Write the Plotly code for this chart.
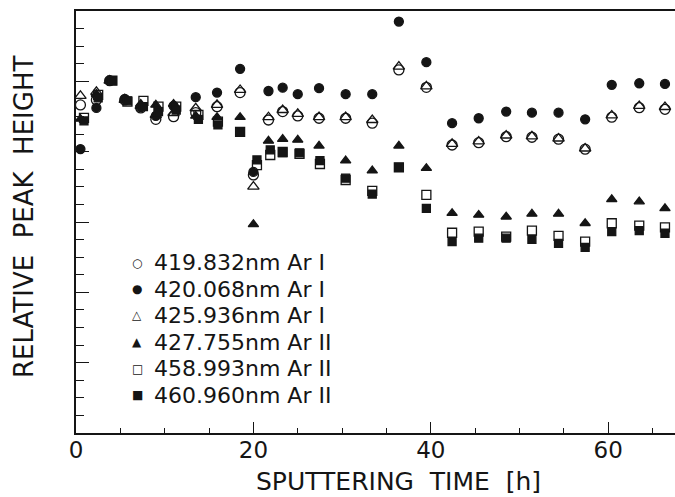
import plotly.graph_objects as go

# Sputtering time [h]
time_h = [0.5, 2.3, 3.8, 5.5, 7.3, 9.0, 11.0, 13.5, 15.9, 18.5, 20.0, 21.7, 23.3, 25.0,
          27.4, 30.4, 33.4, 36.4, 39.5, 42.4, 45.4, 48.5, 51.4, 54.4, 57.4, 60.4, 63.5, 66.4]
time_sq = [0.9, 2.5, 4.1, 5.8, 7.6, 9.3, 11.3, 13.8, 16.0, 18.5, 20.4, 21.9, 23.3, 25.2,
           27.5, 30.4, 33.4, 36.4, 39.5, 42.4, 45.4, 48.5, 51.4, 54.4, 57.4, 60.4, 63.5, 66.4]

# Relative peak height (arbitrary units)
ar_419_832 = [18.66, 18.94, 20.04, 18.94, 18.49, 17.84, 17.99, 18.22, 18.56, 19.36, 14.68, 17.80, 18.28, 18.03,
              17.90, 17.90, 17.62, 20.65, 19.66, 16.38, 16.51, 16.85, 16.82, 16.71, 16.14, 17.96, 18.50, 18.41]
ar_420_068 = [16.15, 18.49, 20.04, 19.00, 18.53, 18.03, 18.60, 19.10, 19.36, 20.71, 14.85, 19.45, 19.64, 19.27,
              19.61, 19.27, 19.27, 23.40, 21.09, 17.62, 17.90, 18.28, 18.22, 18.22, 17.84, 19.80, 19.89, 19.85]
ar_425_936 = [19.17, 19.40, 20.04, 18.94, 18.60, 18.09, 18.20, 18.47, 18.66, 19.51, 14.01, 17.96, 18.37, 18.15,
              17.97, 17.97, 17.80, 20.84, 19.71, 16.44, 16.58, 16.92, 16.87, 16.75, 16.18, 18.06, 18.60, 18.54]
ar_427_755 = [17.86, 19.28, 20.04, 19.00, 18.71, 18.66, 18.71, 18.03, 17.96, 17.96, 11.87, 16.61, 16.71, 16.67,
              16.33, 15.49, 14.92, 16.33, 15.06, 12.50, 12.40, 12.30, 12.46, 12.46, 11.93, 13.29, 13.16, 12.78]
ar_458_993 = [17.92, 19.23, 20.04, 18.85, 18.89, 18.56, 18.56, 18.09, 17.71, 17.12, 15.24, 15.81, 15.98, 15.87,
              15.30, 14.39, 13.77, 15.11, 13.54, 11.39, 11.45, 11.17, 11.51, 11.21, 10.88, 11.93, 11.79, 11.70]
ar_460_960 = [17.75, 19.06, 20.04, 18.89, 18.56, 18.28, 18.37, 17.84, 17.52, 17.12, 15.53, 16.10, 15.94, 15.93,
              15.49, 14.49, 13.59, 15.11, 12.78, 10.88, 11.08, 11.08, 11.02, 10.79, 10.56, 11.45, 11.51, 11.36]

series_labels = ["419.832nm Ar I", "420.068nm Ar I", "425.936nm Ar I",
                 "427.755nm Ar II", "458.993nm Ar II", "460.960nm Ar II"]
legend_glyphs = ["○", "●", "△", "▲", "□", "■"]
x_ticks = [0, 20, 40, 60]

INK = "#151515"
FONT = "DejaVu Sans"

W, H = 675, 497
PL, PR, PT, PB = 76, 675, 11, 433      # plot area in pixels
PW, PH = PR - PL, PB - PT


def px(xp):
    return (xp - PL) / PW


def py(yp):
    return (PB - yp) / PH


fig = go.Figure()
specs = [
    (time_h, ar_419_832, "circle-open", 10),
    (time_h, ar_420_068, "circle", 9),
    (time_h, ar_425_936, "triangle-up-open", 10),
    (time_h, ar_427_755, "triangle-up", 9),
    (time_sq, ar_458_993, "square-open", 9),
    (time_sq, ar_460_960, "square", 8),
]
for (xs, ys, sym, sz), name in zip(specs, series_labels):
    fig.add_trace(go.Scatter(
        x=xs, y=ys, mode="markers", name=name, cliponaxis=False,
        marker=dict(symbol=sym, size=sz, color=INK, line=dict(color=INK, width=1.3)),
        showlegend=False,
    ))

# Legend drawn as text
row0 = 262.5
gap = 26.5
for i, (g, lab) in enumerate(zip(legend_glyphs, series_labels)):
    yy = py(row0 + i * gap)
    fig.add_annotation(x=px(137), y=yy, xref="paper", yref="paper",
                       text=g, showarrow=False, xanchor="center", yanchor="middle",
                       font=dict(family=FONT, size=12, color=INK))
    fig.add_annotation(x=px(152), y=yy, xref="paper", yref="paper",
                       text=lab, showarrow=False, xanchor="left", yanchor="middle",
                       font=dict(family=FONT, size=22, color=INK))

# Axis titles
fig.add_annotation(x=px(398), y=py(481), xref="paper", yref="paper",
                   text="SPUTTERING  TIME  [h]", showarrow=False, xanchor="center", yanchor="middle",
                   font=dict(family=FONT, size=25, color=INK))
fig.add_annotation(x=px(24), y=py(217), xref="paper", yref="paper",
                   text="RELATIVE  PEAK  HEIGHT", showarrow=False, textangle=-90,
                   xanchor="center", yanchor="middle",
                   font=dict(family=FONT, size=26, color=INK))

fig.update_layout(
    width=W, height=H,
    margin=dict(l=PL, r=W - PR, t=PT, b=H - PB),
    paper_bgcolor="white", plot_bgcolor="white",
    font=dict(family=FONT, color=INK),
    xaxis=dict(range=[0, (PR - PL) / 8.87], tickvals=x_ticks, ticktext=[str(v) for v in x_ticks],
               ticks="inside", ticklen=11, tickwidth=1.3, tickcolor=INK,
               ticklabelstandoff=-4,
               minor=dict(dtick=5, tick0=0, ticks="inside", ticklen=5, tickwidth=1.2, tickcolor=INK),
               showline=True, linecolor=INK, linewidth=1.5, mirror=True,
               showgrid=False, zeroline=False),
    yaxis=dict(range=[0, 24], dtick=4, tick0=0, showticklabels=False,
               ticks="inside", ticklen=13, tickwidth=1.3, tickcolor=INK,
               minor=dict(dtick=1, tick0=0, ticks="inside", ticklen=8, tickwidth=1.2, tickcolor=INK),
               showline=True, linecolor=INK, linewidth=1.5, mirror=False,
               showgrid=False, zeroline=False),
)
fig.update_xaxes(tickfont=dict(family=FONT, size=23, color=INK))

fig.write_html(
    "out.html",
    config={"displayModeBar": False},
    post_script="document.body.style.margin='0';document.body.style.overflow='hidden';",
)
